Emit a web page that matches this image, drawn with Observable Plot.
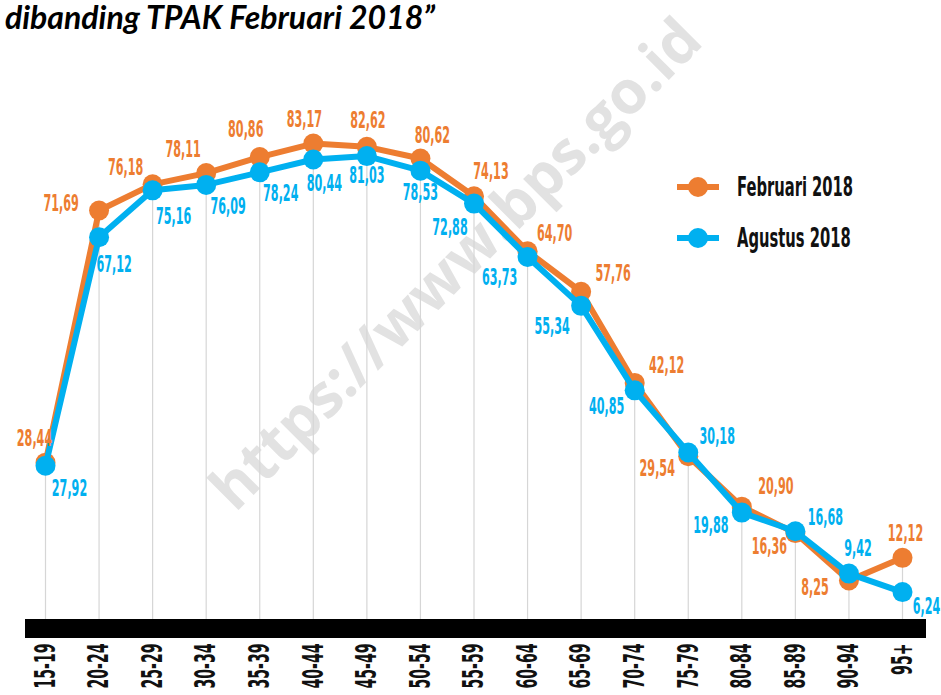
<!DOCTYPE html>
<html>
<head>
<meta charset="utf-8">
<script src="https://cdn.jsdelivr.net/npm/d3@7"></script>
<script src="https://cdn.jsdelivr.net/npm/@observablehq/plot@0.6"></script>
<style>
  html, body { margin: 0; padding: 0; background: #fff; }
  #wrap { position: relative; width: 941px; height: 695px; overflow: hidden; }
  #title { position: absolute; left: 5px; top: 1px; font-family: Lato, "Open Sans", sans-serif; font-weight: 700; font-style: italic; font-size: 32px; line-height: 32px; color: #000; white-space: nowrap; }
  #watermark { position: absolute; left: 454px; top: 262px; transform: translate(-50%, -50%) rotate(-45deg); font-family: "Open Sans", sans-serif; font-weight: 700; font-size: 60px; color: #e2e2e2; white-space: nowrap; }
  #chart { position: absolute; left: 0; top: 0; }
  .leg { position: absolute; left: 676px; height: 30px; display: flex; align-items: center; }
  .leg span { display: inline-block; margin-left: 17px; font-family: "Liberation Sans Narrow", "DejaVu Sans Condensed", sans-serif; font-weight: 700; font-size: 26px; color: #111; transform: scaleX(0.63); transform-origin: left center; white-space: nowrap; }
</style>
</head>
<body>
<div id="wrap">
  <div id="watermark">https://www.bps.go.id</div>
  <div id="chart"></div>
  <div id="title">dibanding TPAK Februari 2018”</div>
  <div class="leg" id="leg1" style="top:172px"></div>
  <div class="leg" id="leg2" style="top:223px"></div>
</div>
<script>
const ages = ["15-19","20-24","25-29","30-34","35-39","40-44","45-49","50-54","55-59","60-64","65-69","70-74","75-79","80-84","85-89","90-94","95+"];
const februari = [28.44,71.69,76.18,78.11,80.86,83.17,82.62,80.62,74.13,64.70,57.76,42.12,29.54,20.90,16.36,8.25,12.12];
const agustus  = [27.92,67.12,75.16,76.09,78.24,80.44,81.03,78.53,72.88,63.73,55.34,40.85,30.18,19.88,16.68,9.42,6.24];
const seriesNames = ["Februari 2018", "Agustus 2018"];

// label offsets (layout only)
const febDx = [-11,-38,-27,-23,-14,-9,1,12,17,27,32,32,-31,34,-26,-34,3];
const febDy = [-24,-7,-17,-23,-27,-24,-26,-23,-25,-18,-18,-17,12,-20,14,7,-24];
const augDx = [24,15,21,22,21,11,0,0,-24,-28,-29,-28,29,-31,30,9,24];
const augDy = [23,27,26,22,21,24,20,22,24,21,21,16,-16,13,-14,-25,15];

const ORANGE = "#ED7D31", BLUE = "#00B0F0";
const FONT = "'Liberation Sans Narrow', 'DejaVu Sans Condensed', sans-serif";
const fmt = v => v.toFixed(2).replace(".", ",");
const idx = d3.range(ages.length);

const labelMarks = [];
for (const i of idx) {
  labelMarks.push(Plot.text([i], {x: d => ages[d], y: d => februari[d], text: d => fmt(februari[d]), dx: febDx[i], dy: febDy[i], fill: ORANGE, fontSize: 23, fontWeight: "bold", fontFamily: FONT}));
  labelMarks.push(Plot.text([i], {x: d => ages[d], y: d => agustus[d], text: d => fmt(agustus[d]), dx: augDx[i], dy: augDy[i], fill: BLUE, fontSize: 23, fontWeight: "bold", fontFamily: FONT}));
}

const chart = Plot.plot({
  width: 941,
  height: 695,
  marginLeft: 25,
  marginRight: 15,
  marginTop: 0,
  marginBottom: 58,
  style: {background: "transparent", overflow: "visible"},
  x: {type: "point", domain: ages, range: [45, 902], padding: 0, round: false, axis: null},
  y: {domain: [0, 100], range: [628, 45], axis: null},
  marks: [
    Plot.ruleX(idx, {x: d => ages[d], y1: 0, y2: d => Math.max(februari[d], agustus[d]), stroke: "#d6d6d6", strokeWidth: 1.2}),
    Plot.ruleY([0], {stroke: "#000", strokeWidth: 19}),
    Plot.line(idx, {x: d => ages[d], y: d => februari[d], stroke: ORANGE, strokeWidth: 6, curve: "linear"}),
    Plot.dot(idx, {x: d => ages[d], y: d => februari[d], r: 10, fill: ORANGE}),
    Plot.line(idx, {x: d => ages[d], y: d => agustus[d], stroke: BLUE, strokeWidth: 6, curve: "linear"}),
    Plot.dot(idx, {x: d => ages[d], y: d => agustus[d], r: 10, fill: BLUE}),
    ...labelMarks,
    Plot.text(ages, {x: d => d, y: 0, text: d => d, dy: 15, rotate: -90, textAnchor: "end", lineAnchor: "middle", fontSize: 29, fontWeight: "bold", fontFamily: FONT, fill: "#111"})
  ]
});

// condense glyphs horizontally (local text axis)
chart.querySelectorAll("text").forEach(t => {
  const tr = t.getAttribute("transform");
  if (tr) t.setAttribute("transform", tr + " scale(0.54,1)");
  else {
    const x = t.getAttribute("x") || 0, y = t.getAttribute("y") || 0;
    t.removeAttribute("x"); t.removeAttribute("y");
    t.setAttribute("transform", `translate(${x},${y}) scale(0.54,1)`);
  }
});
document.getElementById("chart").append(chart);

function legendIcon(color) {
  return `<svg width="44" height="22" viewBox="0 0 44 22"><line x1="1" y1="11" x2="43" y2="11" stroke="${color}" stroke-width="6"/><circle cx="22" cy="11" r="10" fill="${color}"/></svg>`;
}
document.getElementById("leg1").innerHTML = legendIcon(ORANGE) + `<span>${seriesNames[0]}</span>`;
document.getElementById("leg2").innerHTML = legendIcon(BLUE) + `<span>${seriesNames[1]}</span>`;
</script>
</body>
</html>
